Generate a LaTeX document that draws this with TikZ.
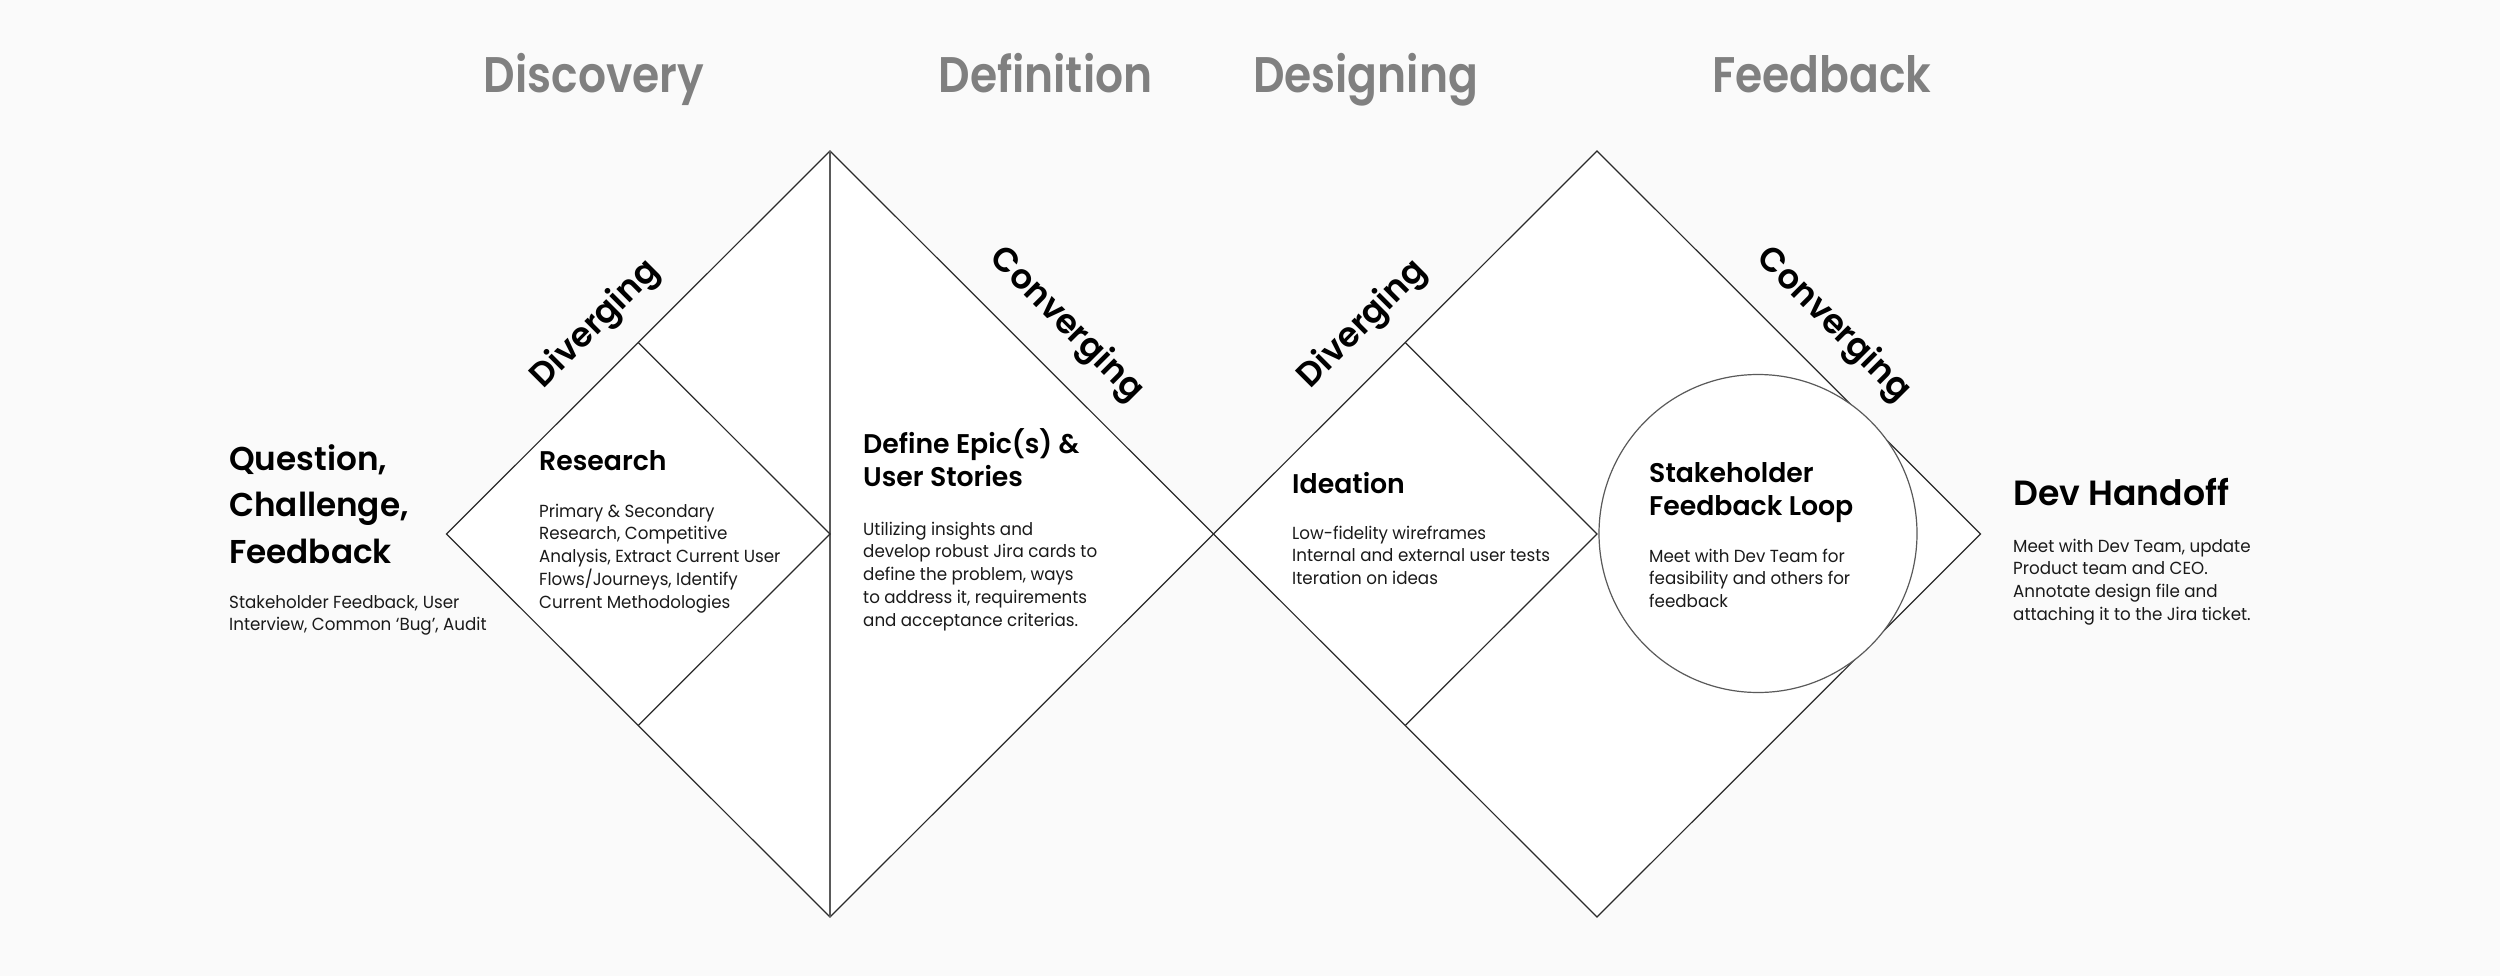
\documentclass[tikz,border=0pt]{standalone}
\usepackage{fontspec}
\setmainfont{Poppins}
\IfFontExistsTF{Poppins SemiBold}{%
  \newfontfamily\titlefont[FakeStretch=0.88]{Poppins SemiBold}%
  \newfontfamily\headfont[FakeStretch=0.99]{Poppins SemiBold}%
  \global\let\boldsel\relax}{%
  \newfontfamily\titlefont[FakeStretch=0.86]{Poppins}%
  \newfontfamily\headfont[FakeStretch=0.98]{Poppins}%
  \global\let\boldsel\bfseries}
\newfontfamily\bodyfont[FakeStretch=0.955]{Poppins}
\definecolor{bgc}{HTML}{FAFAFA}
\definecolor{titlegray}{HTML}{808080}
\definecolor{edgec}{HTML}{2A2A2A}
\definecolor{softc}{HTML}{5A5A5A}
\definecolor{bodyc}{HTML}{1A1A1A}
\begin{document}
\begin{tikzpicture}[x=1pt,y=-1pt,
  edgeline/.style={draw=edgec, line width=1.2pt, line join=miter},
  softline/.style={draw=softc, line width=1.2pt},
  title/.style={font=\fontsize{50}{60}\selectfont\titlefont\boldsel, text=titlegray, anchor=base, inner sep=0pt},
  rotlabel/.style={font=\fontsize{34}{40}\selectfont\headfont\boldsel, text=black, anchor=base, inner sep=0pt},
  bighead/.style={font=\fontsize{33}{46.5}\selectfont\headfont\boldsel, anchor=base west, inner sep=0pt},
  head/.style={font=\fontsize{27}{33.5}\selectfont\headfont\boldsel, anchor=base west, inner sep=0pt},
  devhead/.style={font=\fontsize{35}{42}\selectfont\headfont\boldsel, anchor=base west, inner sep=0pt},
  body/.style={font=\fontsize{17.5}{22.8}\selectfont\bodyfont, text=bodyc, anchor=base west, inner sep=0pt}
]
\fill[bgc] (0,0) rectangle (2500,976);
\useasboundingbox (0,0) rectangle (2500,976);

% diamond 1
\coordinate (d1t) at (830,151);
\coordinate (d1b) at (830,917);
\coordinate (d1l) at (446.5,534);
\coordinate (d1r) at (1213.5,534);
\coordinate (d1c) at (830,534);
\coordinate (d1it) at (638.25,342.5);
\coordinate (d1ib) at (638.25,725.5);
% diamond 2
\coordinate (d2t) at (1597,151);
\coordinate (d2b) at (1597,917);
\coordinate (d2l) at (1213.5,534);
\coordinate (d2r) at (1980.5,534);
\coordinate (d2c) at (1597,534);
\coordinate (d2it) at (1405.25,342.5);
\coordinate (d2ib) at (1405.25,725.5);

\path[edgeline, fill=white] (d1l) -- (d1t) -- (d1r) -- (d1b) -- cycle;
\draw[softline] (d1t) -- (d1b);
\draw[edgeline] (d1it) -- (d1c) -- (d1ib);

\path[edgeline, fill=white] (d2l) -- (d2t) -- (d2r) -- (d2b) -- cycle;
\draw[edgeline] (d2it) -- (d2c) -- (d2ib);
\node[circle, draw=softc, line width=1.2pt, fill=white, minimum size=318pt, inner sep=0pt] (loop) at (1758,533.5) {};

% titles
\node[title] (tdisc) at (594,93) {Discovery};
\node[title] (tdef) at (1045.5,93) {Definition};
\node[title] (tdes) at (1365.5,93) {Designing};
\node[title] (tfb) at (1822,93) {Feedback};

% rotated labels
\node[rotlabel, rotate=45] (div1) at (602,331) {Diverging};
\node[rotlabel, rotate=-45] (con1) at (1060,331) {Converging};
\node[rotlabel, rotate=45] (div2) at (1369,331) {Diverging};
\node[rotlabel, rotate=-45] (con2) at (1827,331) {Converging};

% left block
\node[bighead] (qh) at (229,470) {\parbox[t]{300pt}{Question,\\Challenge,\\Feedback}};
\node[body] (qb) at (229,608) {\parbox[t]{300pt}{Stakeholder Feedback, User\\Interview, Common ‘Bug’, Audit}};

% research
\node[head] (rh) at (539,470) {Research};
\node[body] (rb) at (539,517) {\parbox[t]{300pt}{Primary \& Secondary\\Research, Competitive\\Analysis, Extract Current User\\Flows/Journeys, Identify\\Current Methodologies}};

% define
\node[head] (dh) at (863,453) {\parbox[t]{300pt}{Define Epic(s) \&\\User Stories}};
\node[body] (db) at (863,535) {\parbox[t]{300pt}{Utilizing insights and\\develop robust Jira cards to\\define the problem, ways\\to address it, requirements\\and acceptance criterias.}};

% ideation
\node[head] (ih) at (1292,493) {Ideation};
\node[body] (ib) at (1292,539) {\parbox[t]{300pt}{Low-fidelity wireframes\\Internal and external user tests\\Iteration on ideas}};

% stakeholder
\node[head] (sh) at (1649,482) {\parbox[t]{300pt}{Stakeholder\\Feedback Loop}};
\node[body] (sb) at (1649,562) {\parbox[t]{300pt}{Meet with Dev Team for\\feasibility and others for\\feedback}};

% dev handoff
\node[devhead] (hh) at (2013,505) {Dev Handoff};
\node[body] (hb) at (2013,552) {\parbox[t]{300pt}{Meet with Dev Team, update\\Product team and CEO.\\Annotate design file and\\attaching it to the Jira ticket.}};
\end{tikzpicture}
\end{document}
